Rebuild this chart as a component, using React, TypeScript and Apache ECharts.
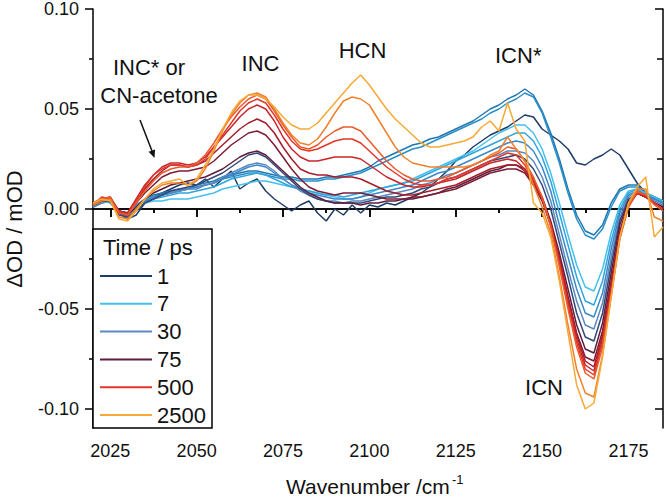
import React, { useEffect, useRef } from "react";
import * as echarts from "echarts";

const wavenumbers = [
  2020, 2022.5, 2025, 2027.5, 2030, 2032.5, 2035, 2037.5, 2040, 2042.5,
  2045, 2047.5, 2050, 2052.5, 2055, 2057.5, 2060, 2062.5, 2065, 2067.5,
  2070, 2072.5, 2075, 2077.5, 2080, 2082.5, 2085, 2087.5, 2090, 2092.5,
  2095, 2097.5, 2100, 2102.5, 2105, 2107.5, 2110, 2112.5, 2115, 2117.5,
  2120, 2122.5, 2125, 2127.5, 2130, 2132.5, 2135, 2137.5, 2140, 2142.5,
  2145, 2147.5, 2150, 2152.5, 2155, 2157.5, 2160, 2162.5, 2165, 2167.5,
  2170, 2172.5, 2175, 2177.5, 2180, 2182.5, 2185,
];

const t1 = [
  0.001, 0.003, 0.004, -0.002, -0.005, -0.003, 0.003, 0.006, 0.008, 0.010,
  0.012, 0.013, 0.012, 0.015, 0.011, 0.015, 0.019, 0.010, 0.013, 0.015,
  0.009, 0.005, 0.002, -0.001, 0.002, 0.004, -0.002, -0.006, 0.000, -0.003,
  0.002, -0.002, 0.002, 0.001, 0.003, 0.002, 0.004, 0.006, 0.008, 0.011,
  0.015, 0.019, 0.024, 0.027, 0.031, 0.034, 0.037, 0.039, 0.041, 0.044,
  0.047, 0.046, 0.040, 0.037, 0.034, 0.030, 0.023, 0.022, 0.025, 0.027,
  0.030, 0.027, 0.020, 0.013, 0.008, 0.006, 0.004,
];
const t2 = [
  0.002, 0.004, 0.004, -0.001, -0.002, 0.002, 0.005, 0.007, 0.008, 0.009,
  0.010, 0.010, 0.012, 0.013, 0.014, 0.016, 0.017, 0.018, 0.019, 0.019,
  0.018, 0.017, 0.016, 0.016, 0.015, 0.015, 0.015, 0.016, 0.016, 0.017,
  0.018, 0.019, 0.021, 0.024, 0.026, 0.028, 0.030, 0.032, 0.033, 0.035,
  0.036, 0.038, 0.040, 0.042, 0.044, 0.047, 0.050, 0.052, 0.055, 0.057,
  0.060, 0.057, 0.049, 0.038, 0.025, 0.010, -0.003, -0.011, -0.013, -0.008,
  0.003, 0.010, 0.012, 0.012, 0.008, 0.006, 0.004,
];
const t3 = [
  0.003, 0.005, 0.003, -0.002, -0.003, 0.001, 0.004, 0.006, 0.007, 0.008,
  0.009, 0.010, 0.011, 0.012, 0.013, 0.015, 0.016, 0.017, 0.018, 0.018,
  0.017, 0.016, 0.015, 0.015, 0.014, 0.014, 0.014, 0.015, 0.015, 0.016,
  0.017, 0.018, 0.020, 0.022, 0.024, 0.026, 0.028, 0.030, 0.031, 0.033,
  0.035, 0.037, 0.039, 0.041, 0.043, 0.045, 0.048, 0.050, 0.053, 0.055,
  0.058, 0.056, 0.048, 0.036, 0.023, 0.008, -0.005, -0.013, -0.015, -0.010,
  0.001, 0.009, 0.011, 0.011, 0.007, 0.005, 0.003,
];
const t7 = [
  0.002, 0.003, 0.004, -0.001, -0.002, 0.001, 0.003, 0.004, 0.004, 0.005,
  0.005, 0.005, 0.006, 0.007, 0.008, 0.010, 0.011, 0.012, 0.013, 0.014,
  0.014, 0.013, 0.012, 0.011, 0.010, 0.009, 0.008, 0.007, 0.006, 0.005,
  0.005, 0.006, 0.008, 0.010, 0.011, 0.012, 0.013, 0.015, 0.017, 0.019,
  0.021, 0.023, 0.025, 0.027, 0.029, 0.032, 0.035, 0.038, 0.040, 0.042,
  0.042, 0.038, 0.030, 0.018, 0.003, -0.013, -0.028, -0.039, -0.041, -0.030,
  -0.012, 0.002, 0.009, 0.010, 0.008, 0.006, 0.004,
];
const t10 = [
  0.001, 0.004, 0.005, -0.001, -0.003, 0.001, 0.004, 0.005, 0.006, 0.007,
  0.008, 0.008, 0.009, 0.010, 0.011, 0.013, 0.015, 0.016, 0.017, 0.018,
  0.017, 0.015, 0.013, 0.011, 0.010, 0.009, 0.008, 0.007, 0.007, 0.006,
  0.007, 0.008, 0.009, 0.010, 0.011, 0.012, 0.013, 0.014, 0.016, 0.018,
  0.020, 0.022, 0.024, 0.026, 0.028, 0.030, 0.032, 0.034, 0.036, 0.038,
  0.038, 0.034, 0.026, 0.014, -0.002, -0.018, -0.034, -0.046, -0.048, -0.036,
  -0.016, 0.000, 0.008, 0.010, 0.007, 0.005, 0.003,
];
const t20 = [
  0.002, 0.004, 0.005, -0.002, -0.003, 0.000, 0.004, 0.006, 0.007, 0.008,
  0.009, 0.010, 0.011, 0.012, 0.013, 0.015, 0.017, 0.019, 0.021, 0.022,
  0.021, 0.018, 0.015, 0.012, 0.010, 0.008, 0.007, 0.006, 0.005, 0.005,
  0.005, 0.006, 0.007, 0.008, 0.009, 0.010, 0.011, 0.012, 0.014, 0.016,
  0.018, 0.019, 0.021, 0.023, 0.025, 0.027, 0.029, 0.031, 0.033, 0.034,
  0.033, 0.029, 0.021, 0.009, -0.008, -0.024, -0.040, -0.052, -0.054, -0.042,
  -0.020, -0.002, 0.007, 0.009, 0.007, 0.005, 0.003,
];
const t30 = [
  0.001, 0.003, 0.005, -0.002, -0.004, 0.000, 0.003, 0.005, 0.007, 0.008,
  0.009, 0.010, 0.010, 0.012, 0.013, 0.016, 0.018, 0.020, 0.022, 0.023,
  0.022, 0.019, 0.015, 0.012, 0.009, 0.007, 0.005, 0.004, 0.004, 0.003,
  0.004, 0.004, 0.005, 0.006, 0.007, 0.008, 0.009, 0.010, 0.012, 0.013,
  0.015, 0.017, 0.018, 0.020, 0.022, 0.024, 0.026, 0.027, 0.029, 0.029,
  0.028, 0.024, 0.016, 0.004, -0.013, -0.030, -0.046, -0.058, -0.060, -0.047,
  -0.024, -0.004, 0.006, 0.009, 0.007, 0.004, 0.002,
];
const t50 = [
  0.002, 0.004, 0.004, -0.003, -0.004, -0.001, 0.003, 0.005, 0.007, 0.009,
  0.010, 0.011, 0.012, 0.014, 0.016, 0.018, 0.021, 0.024, 0.027, 0.028,
  0.026, 0.022, 0.018, 0.014, 0.010, 0.007, 0.005, 0.004, 0.003, 0.003,
  0.003, 0.003, 0.004, 0.005, 0.006, 0.006, 0.007, 0.008, 0.010, 0.011,
  0.013, 0.015, 0.016, 0.018, 0.020, 0.022, 0.024, 0.025, 0.026, 0.027,
  0.025, 0.020, 0.012, 0.000, -0.017, -0.034, -0.052, -0.064, -0.066, -0.052,
  -0.028, -0.006, 0.005, 0.008, 0.006, 0.003, 0.001,
];
const t75 = [
  0.002, 0.004, 0.005, -0.002, -0.003, 0.001, 0.005, 0.008, 0.010, 0.012,
  0.013, 0.014, 0.015, 0.016, 0.018, 0.020, 0.023, 0.026, 0.028, 0.029,
  0.027, 0.023, 0.019, 0.015, 0.011, 0.008, 0.006, 0.004, 0.003, 0.003,
  0.003, 0.002, 0.003, 0.003, 0.004, 0.004, 0.005, 0.005, 0.006, 0.007,
  0.008, 0.010, 0.011, 0.013, 0.015, 0.017, 0.019, 0.020, 0.022, 0.022,
  0.020, 0.014, 0.006, -0.006, -0.022, -0.040, -0.058, -0.070, -0.072, -0.057,
  -0.032, -0.008, 0.004, 0.008, 0.006, 0.003, 0.001,
];
const t100 = [
  0.003, 0.005, 0.004, -0.001, -0.002, 0.003, 0.008, 0.012, 0.016, 0.018,
  0.019, 0.019, 0.020, 0.021, 0.024, 0.028, 0.032, 0.035, 0.038, 0.039,
  0.037, 0.032, 0.026, 0.020, 0.015, 0.011, 0.009, 0.008, 0.007, 0.008,
  0.008, 0.008, 0.007, 0.006, 0.005, 0.005, 0.005, 0.006, 0.006, 0.007,
  0.008, 0.009, 0.010, 0.012, 0.014, 0.016, 0.018, 0.019, 0.020, 0.020,
  0.018, 0.012, 0.004, -0.008, -0.025, -0.044, -0.062, -0.074, -0.076, -0.061,
  -0.036, -0.011, 0.003, 0.008, 0.006, 0.003, 0.000,
];
const t200 = [
  0.002, 0.005, 0.006, -0.001, -0.002, 0.004, 0.010, 0.015, 0.019, 0.022,
  0.022, 0.021, 0.022, 0.024, 0.028, 0.032, 0.036, 0.040, 0.043, 0.045,
  0.043, 0.038, 0.031, 0.025, 0.020, 0.018, 0.017, 0.017, 0.016, 0.016,
  0.016, 0.015, 0.013, 0.011, 0.009, 0.008, 0.007, 0.007, 0.008, 0.009,
  0.010, 0.011, 0.012, 0.014, 0.016, 0.018, 0.020, 0.021, 0.022, 0.022,
  0.019, 0.013, 0.005, -0.007, -0.024, -0.044, -0.063, -0.076, -0.079, -0.063,
  -0.038, -0.012, 0.002, 0.008, 0.006, 0.003, 0.000,
];
const t300 = [
  0.003, 0.005, 0.005, -0.002, -0.002, 0.005, 0.012, 0.017, 0.021, 0.023,
  0.023, 0.022, 0.023, 0.026, 0.031, 0.036, 0.041, 0.046, 0.050, 0.052,
  0.050, 0.044, 0.036, 0.030, 0.026, 0.024, 0.024, 0.025, 0.026, 0.026,
  0.026, 0.025, 0.022, 0.019, 0.016, 0.014, 0.012, 0.011, 0.011, 0.012,
  0.013, 0.014, 0.015, 0.017, 0.019, 0.021, 0.023, 0.024, 0.025, 0.024,
  0.020, 0.014, 0.005, -0.008, -0.026, -0.046, -0.065, -0.078, -0.081, -0.065,
  -0.040, -0.013, 0.002, 0.008, 0.006, 0.003, 0.000,
];
const t500 = [
  0.002, 0.006, 0.005, -0.001, -0.003, 0.004, 0.011, 0.017, 0.020, 0.022,
  0.022, 0.021, 0.022, 0.025, 0.031, 0.037, 0.043, 0.049, 0.053, 0.055,
  0.053, 0.047, 0.040, 0.034, 0.030, 0.029, 0.030, 0.032, 0.034, 0.035,
  0.035, 0.033, 0.029, 0.025, 0.021, 0.018, 0.015, 0.013, 0.012, 0.012,
  0.013, 0.015, 0.016, 0.018, 0.020, 0.022, 0.024, 0.026, 0.028, 0.027,
  0.022, 0.015, 0.006, -0.008, -0.027, -0.048, -0.067, -0.080, -0.083, -0.067,
  -0.041, -0.014, 0.001, 0.008, 0.007, 0.003, 0.000,
];
const t700 = [
  0.003, 0.005, 0.006, -0.002, -0.003, 0.003, 0.009, 0.014, 0.018, 0.020,
  0.021, 0.021, 0.023, 0.027, 0.033, 0.040, 0.046, 0.051, 0.055, 0.057,
  0.055, 0.049, 0.042, 0.036, 0.031, 0.030, 0.032, 0.036, 0.039, 0.041,
  0.041, 0.039, 0.034, 0.029, 0.024, 0.020, 0.017, 0.015, 0.014, 0.014,
  0.015, 0.016, 0.018, 0.020, 0.022, 0.024, 0.026, 0.028, 0.031, 0.030,
  0.024, 0.016, 0.006, -0.009, -0.029, -0.050, -0.069, -0.082, -0.085, -0.069,
  -0.043, -0.015, 0.001, 0.009, 0.007, 0.002, -0.001,
];
const t1000 = [
  0.002, 0.004, 0.005, -0.004, -0.005, 0.000, 0.005, 0.009, 0.012, 0.013,
  0.013, 0.012, 0.014, 0.020, 0.029, 0.039, 0.047, 0.053, 0.057, 0.058,
  0.056, 0.050, 0.043, 0.037, 0.033, 0.032, 0.035, 0.041, 0.048, 0.054,
  0.056, 0.055, 0.052, 0.045, 0.038, 0.031, 0.026, 0.023, 0.022, 0.021,
  0.021, 0.021, 0.021, 0.021, 0.022, 0.024, 0.027, 0.029, 0.036, 0.030,
  0.024, 0.012, 0.001, -0.012, -0.034, -0.058, -0.080, -0.092, -0.094, -0.073,
  -0.044, -0.015, 0.002, 0.010, 0.010, -0.004, -0.006,
];
const t2500 = [
  0.003, 0.005, 0.004, -0.005, -0.006, -0.001, 0.005, 0.010, 0.013, 0.014,
  0.015, 0.012, 0.015, 0.022, 0.030, 0.040, 0.048, 0.054, 0.057, 0.057,
  0.055, 0.051, 0.046, 0.042, 0.040, 0.040, 0.043, 0.048, 0.053, 0.058,
  0.063, 0.067, 0.062, 0.056, 0.050, 0.045, 0.041, 0.037, 0.033, 0.031,
  0.031, 0.032, 0.033, 0.034, 0.036, 0.041, 0.044, 0.039, 0.053, 0.040,
  0.034, 0.003, -0.002, -0.014, -0.036, -0.062, -0.088, -0.100, -0.097, -0.074,
  -0.044, -0.014, 0.003, 0.011, 0.016, -0.014, -0.009,
];

const delayNames = ["1", "2", "3", "7", "10", "20", "30", "50", "75", "100", "200", "300", "500", "700", "1000", "2500"];
const delaySpectra = [t1, t2, t3, t7, t10, t20, t30, t50, t75, t100, t200, t300, t500, t700, t1000, t2500];
const delayColors = [
  "#1e3d66", "#1f78b2", "#2a8fc7", "#45c0ee", "#30a5dd", "#3b88c9", "#5b89bd", "#34497a",
  "#5c1f3e", "#7e1c34", "#a61d2a", "#c9262a", "#e2372c", "#ea5a2b", "#f0812c", "#f6a935",
];
const legendNames = ["1", "7", "30", "75", "500", "2500"];

const xMajor = [2025, 2050, 2075, 2100, 2125, 2150, 2175];
const xMinor = [2037.5, 2062.5, 2087.5, 2112.5, 2137.5, 2162.5];
const yMajor = [-0.1, -0.05, 0, 0.05, 0.1];
const yMinor = [-0.075, -0.025, 0.025, 0.075];

const FONT = "'Liberation Sans', Arial, sans-serif";

export default function App() {
  const ref = useRef<HTMLDivElement>(null);
  useEffect(() => {
    if (!ref.current) return;
    const chart = echarts.init(ref.current, null, { renderer: "svg" });
    const axisLine = { show: true, lineStyle: { color: "#000", width: 1.5 } };
    const xBase = { type: "value", min: 2020, max: 2185, splitLine: { show: false } };
    const yBase = { type: "value", min: -0.1095, max: 0.1, splitLine: { show: false } };
    const tickStyle = { color: "#000", width: 1.5 };
    const option: any = {
      animation: false,
      backgroundColor: "#fff",
      grid: { left: 93, right: 3, top: 9, bottom: 70, outerBoundsMode: "none" },
      xAxis: [
        {
          ...xBase, position: "bottom", axisLine,
          axisTick: { show: true, inside: false, length: 8, customValues: xMajor, lineStyle: tickStyle },
          axisLabel: {
            show: true, customValues: xMajor, fontSize: 18, fontFamily: FONT, color: "#111", margin: 14,
            formatter: (v: number) => String(v),
          },
        },
        {
          ...xBase, position: "bottom", axisLine: { show: false },
          axisTick: { show: true, inside: false, length: 4, customValues: xMinor, lineStyle: tickStyle },
          axisLabel: { show: false },
        },
        {
          ...xBase, position: "top", axisLine,
          axisTick: { show: true, inside: true, length: 8, customValues: xMajor, lineStyle: tickStyle },
          axisLabel: { show: false },
        },
        {
          ...xBase, position: "top", axisLine: { show: false },
          axisTick: { show: true, inside: true, length: 4, customValues: xMinor, lineStyle: tickStyle },
          axisLabel: { show: false },
        },
      ],
      yAxis: [
        {
          ...yBase, position: "left", axisLine,
          axisTick: { show: true, inside: false, length: 8, customValues: yMajor, lineStyle: tickStyle },
          axisLabel: {
            show: true, customValues: yMajor, fontSize: 18, fontFamily: FONT, color: "#111", margin: 14,
            formatter: (v: number) => v.toFixed(2),
          },
        },
        {
          ...yBase, position: "left", axisLine: { show: false },
          axisTick: { show: true, inside: false, length: 4, customValues: yMinor, lineStyle: tickStyle },
          axisLabel: { show: false },
        },
        {
          ...yBase, position: "right", axisLine,
          axisTick: { show: true, inside: true, length: 8, customValues: yMajor, lineStyle: tickStyle },
          axisLabel: { show: false },
        },
        {
          ...yBase, position: "right", axisLine: { show: false },
          axisTick: { show: true, inside: true, length: 6, customValues: yMinor, lineStyle: tickStyle },
          axisLabel: { show: false },
        },
      ],
      legend: {
        show: true,
        data: legendNames,
        orient: "vertical",
        left: 100,
        top: 265,
        padding: 0,
        itemWidth: 52,
        itemHeight: 2,
        itemGap: 5.8,
        icon: "rect",
        z: 6,
        textStyle: { fontSize: 22, fontFamily: FONT, color: "#111", lineHeight: 22 },
      },
      series: delaySpectra.map((vals, i) => ({
        name: delayNames[i],
        type: "line",
        xAxisIndex: 0,
        yAxisIndex: 0,
        showSymbol: false,
        symbol: "none",
        data: wavenumbers.map((w, j) => [w, vals[j]]),
        lineStyle: { width: 1.5, color: delayColors[i] },
        itemStyle: { color: delayColors[i] },
        z: 2,
      })),
      graphic: [
        {
          type: "rect", z: 4,
          shape: { x: 93, y: 229, width: 119, height: 199 },
          style: { fill: "#fff", stroke: "#000", lineWidth: 1.5 },
        },
        {
          type: "text", z: 5, x: 103, y: 247,
          style: { text: "Time / ps", font: `22px ${FONT}`, fill: "#111", textAlign: "left", textVerticalAlign: "middle" },
        },
        {
          type: "text", z: 5, x: 149, y: 67,
          style: { text: "INC* or", font: `22px ${FONT}`, fill: "#111", textAlign: "center", textVerticalAlign: "middle" },
        },
        {
          type: "text", z: 5, x: 159, y: 95,
          style: { text: "CN-acetone", font: `22px ${FONT}`, fill: "#111", textAlign: "center", textVerticalAlign: "middle" },
        },
        {
          type: "line", z: 5,
          shape: { x1: 140, y1: 120, x2: 152, y2: 151 },
          style: { stroke: "#111", lineWidth: 1.5 },
        },
        {
          type: "polygon", z: 5,
          shape: { points: [[154.5, 158], [155, 149.4], [148.6, 151.8]] },
          style: { fill: "#111" },
        },
        {
          type: "text", z: 5, x: 260.5, y: 63,
          style: { text: "INC", font: `22px ${FONT}`, fill: "#111", textAlign: "center", textVerticalAlign: "middle" },
        },
        {
          type: "text", z: 5, x: 362.5, y: 50,
          style: { text: "HCN", font: `22px ${FONT}`, fill: "#111", textAlign: "center", textVerticalAlign: "middle" },
        },
        {
          type: "text", z: 5, x: 495, y: 55,
          style: { text: "ICN*", font: `22px ${FONT}`, fill: "#111", textAlign: "left", textVerticalAlign: "middle" },
        },
        {
          type: "text", z: 5, x: 544, y: 387,
          style: { text: "ICN", font: `22px ${FONT}`, fill: "#111", textAlign: "center", textVerticalAlign: "middle" },
        },
        {
          type: "text", z: 5, x: 286, y: 486,
          style: { text: "Wavenumber /cm", font: `21px ${FONT}`, fill: "#111", textAlign: "left", textVerticalAlign: "middle" },
        },
        {
          type: "text", z: 5, x: 452, y: 479,
          style: { text: "-1", font: `13px ${FONT}`, fill: "#111", textAlign: "left", textVerticalAlign: "middle" },
        },
        {
          type: "text", z: 5, x: 14, y: 229, rotation: Math.PI / 2,
          style: { text: "ΔOD / mOD", font: `22px ${FONT}`, fill: "#111", textAlign: "center", textVerticalAlign: "middle" },
        },
      ],
    };
    chart.setOption(option);
    return () => chart.dispose();
  }, []);
  return (
    <div
      ref={ref}
      style={{ position: "absolute", left: 0, top: 0, width: 666, height: 498, background: "#fff" }}
    />
  );
}
